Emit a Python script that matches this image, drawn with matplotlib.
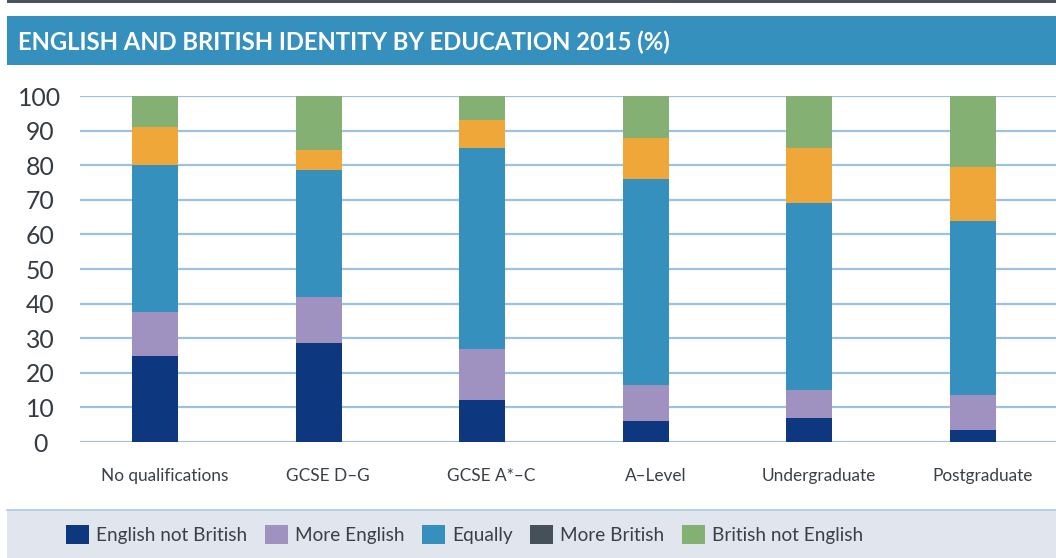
import numpy as np
import matplotlib
matplotlib.use('Agg')
import matplotlib.pyplot as plt
from matplotlib.patches import Rectangle, Patch
from matplotlib.transforms import ScaledTranslation

# данные (в процентах), снизу вверх
categories = ['No qualifications', 'GCSE D–G', 'GCSE A*–C', 'A–Level', 'Undergraduate', 'Postgraduate']
series_names = ['English not British', 'More English', 'Equally', 'More British', 'British not English']
english_not_british = [25, 28.5, 12, 6, 7, 3.5]
more_english = [12.5, 13.5, 15, 10.5, 8, 10]
equally = [42.5, 36.5, 58, 59.5, 54, 50.5]
more_british = [11, 6, 8, 12, 16, 15.5]
british_not_english = [9, 15.5, 7, 12, 15, 20.5]
y_ticks = list(range(0, 101, 10))
title = 'ENGLISH AND BRITISH IDENTITY BY EDUCATION 2015 (%)'

bar_colors = ['#0d3880', '#9f92c1', '#3590bd', '#f0a73a', '#84b074']
# в легенде оригинала "More British" тёмно-серый
legend_colors = ['#0d3880', '#9f92c1', '#3590bd', '#465058', '#84b074']
text_color = '#3a4048'

W, H = 1056, 558
plt.rcParams['font.family'] = ['Lato', 'DejaVu Sans']
fig = plt.figure(figsize=(W / 100, H / 100), dpi=100)


def fx(px):
    return px / W


def fy(py):
    return 1 - py / H


# верхняя линия, плашка заголовка и полоса легенды
fig.patches.append(Rectangle((fx(7), fy(3)), fx(W - 7), 3 / H, transform=fig.transFigure,
                             color='#4a5460', lw=0))
fig.patches.append(Rectangle((fx(7), fy(65)), fx(W - 7), 49 / H, transform=fig.transFigure,
                             color='#3590bd', lw=0))
fig.patches.append(Rectangle((fx(7), 0), fx(W - 7), 48 / H, transform=fig.transFigure,
                             facecolor='#e1e6ee', edgecolor='none'))
fig.add_artist(plt.Line2D([fx(7), 1], [fy(510), fy(510)], transform=fig.transFigure,
                          color='#a9cbe3', lw=1.2))

fig.text(fx(18), fy(50), title, color='white', fontsize=17.2, fontweight='bold',
         va='baseline', ha='left')

ax = fig.add_axes([fx(80), fy(442), fx(W - 80), (442 - 96) / H])

data = [english_not_british, more_english, equally, more_british, british_not_english]
x = np.arange(len(categories))
bottom = np.zeros(len(categories))
for vals, name, col in zip(data, series_names, bar_colors):
    ax.bar(x, vals, width=0.281, bottom=bottom, color=col, label=name, zorder=2)
    bottom += np.array(vals)

ax.set_xlim(-0.458, 5.507)
ax.set_ylim(0, 100)
ax.set_yticks(y_ticks)
ax.yaxis.grid(True, color='#9cc2e0', lw=1.6, zorder=0)
ax.set_axisbelow(True)
for s in ax.spines.values():
    s.set_visible(False)

ax.tick_params(axis='y', length=0, pad=28.8, labelsize=17.8, labelcolor='#343b43')
for lab in ax.get_yticklabels():
    lab.set_ha('center')

ax.set_xticks(x)
ax.set_xticklabels(categories)
ax.tick_params(axis='x', length=0, pad=24.5, labelsize=12.4, labelcolor=text_color)
shift = ScaledTranslation(9.5 / 100, 0, fig.dpi_scale_trans)
for lab in ax.get_xticklabels():
    lab.set_va('center')
    lab.set_transform(lab.get_transform() + shift)

handles = [Patch(facecolor=c, edgecolor='none') for c in legend_colors]
fig.legend(handles, series_names, loc='center left', bbox_to_anchor=(fx(66), fy(534.5)),
           ncol=5, frameon=False, fontsize=13.65, borderpad=0, borderaxespad=0,
           handlelength=1.21, handleheight=1.16, handletextpad=0.37, columnspacing=0.93,
           labelcolor=text_color)

plt.savefig('out.png', dpi=100)
